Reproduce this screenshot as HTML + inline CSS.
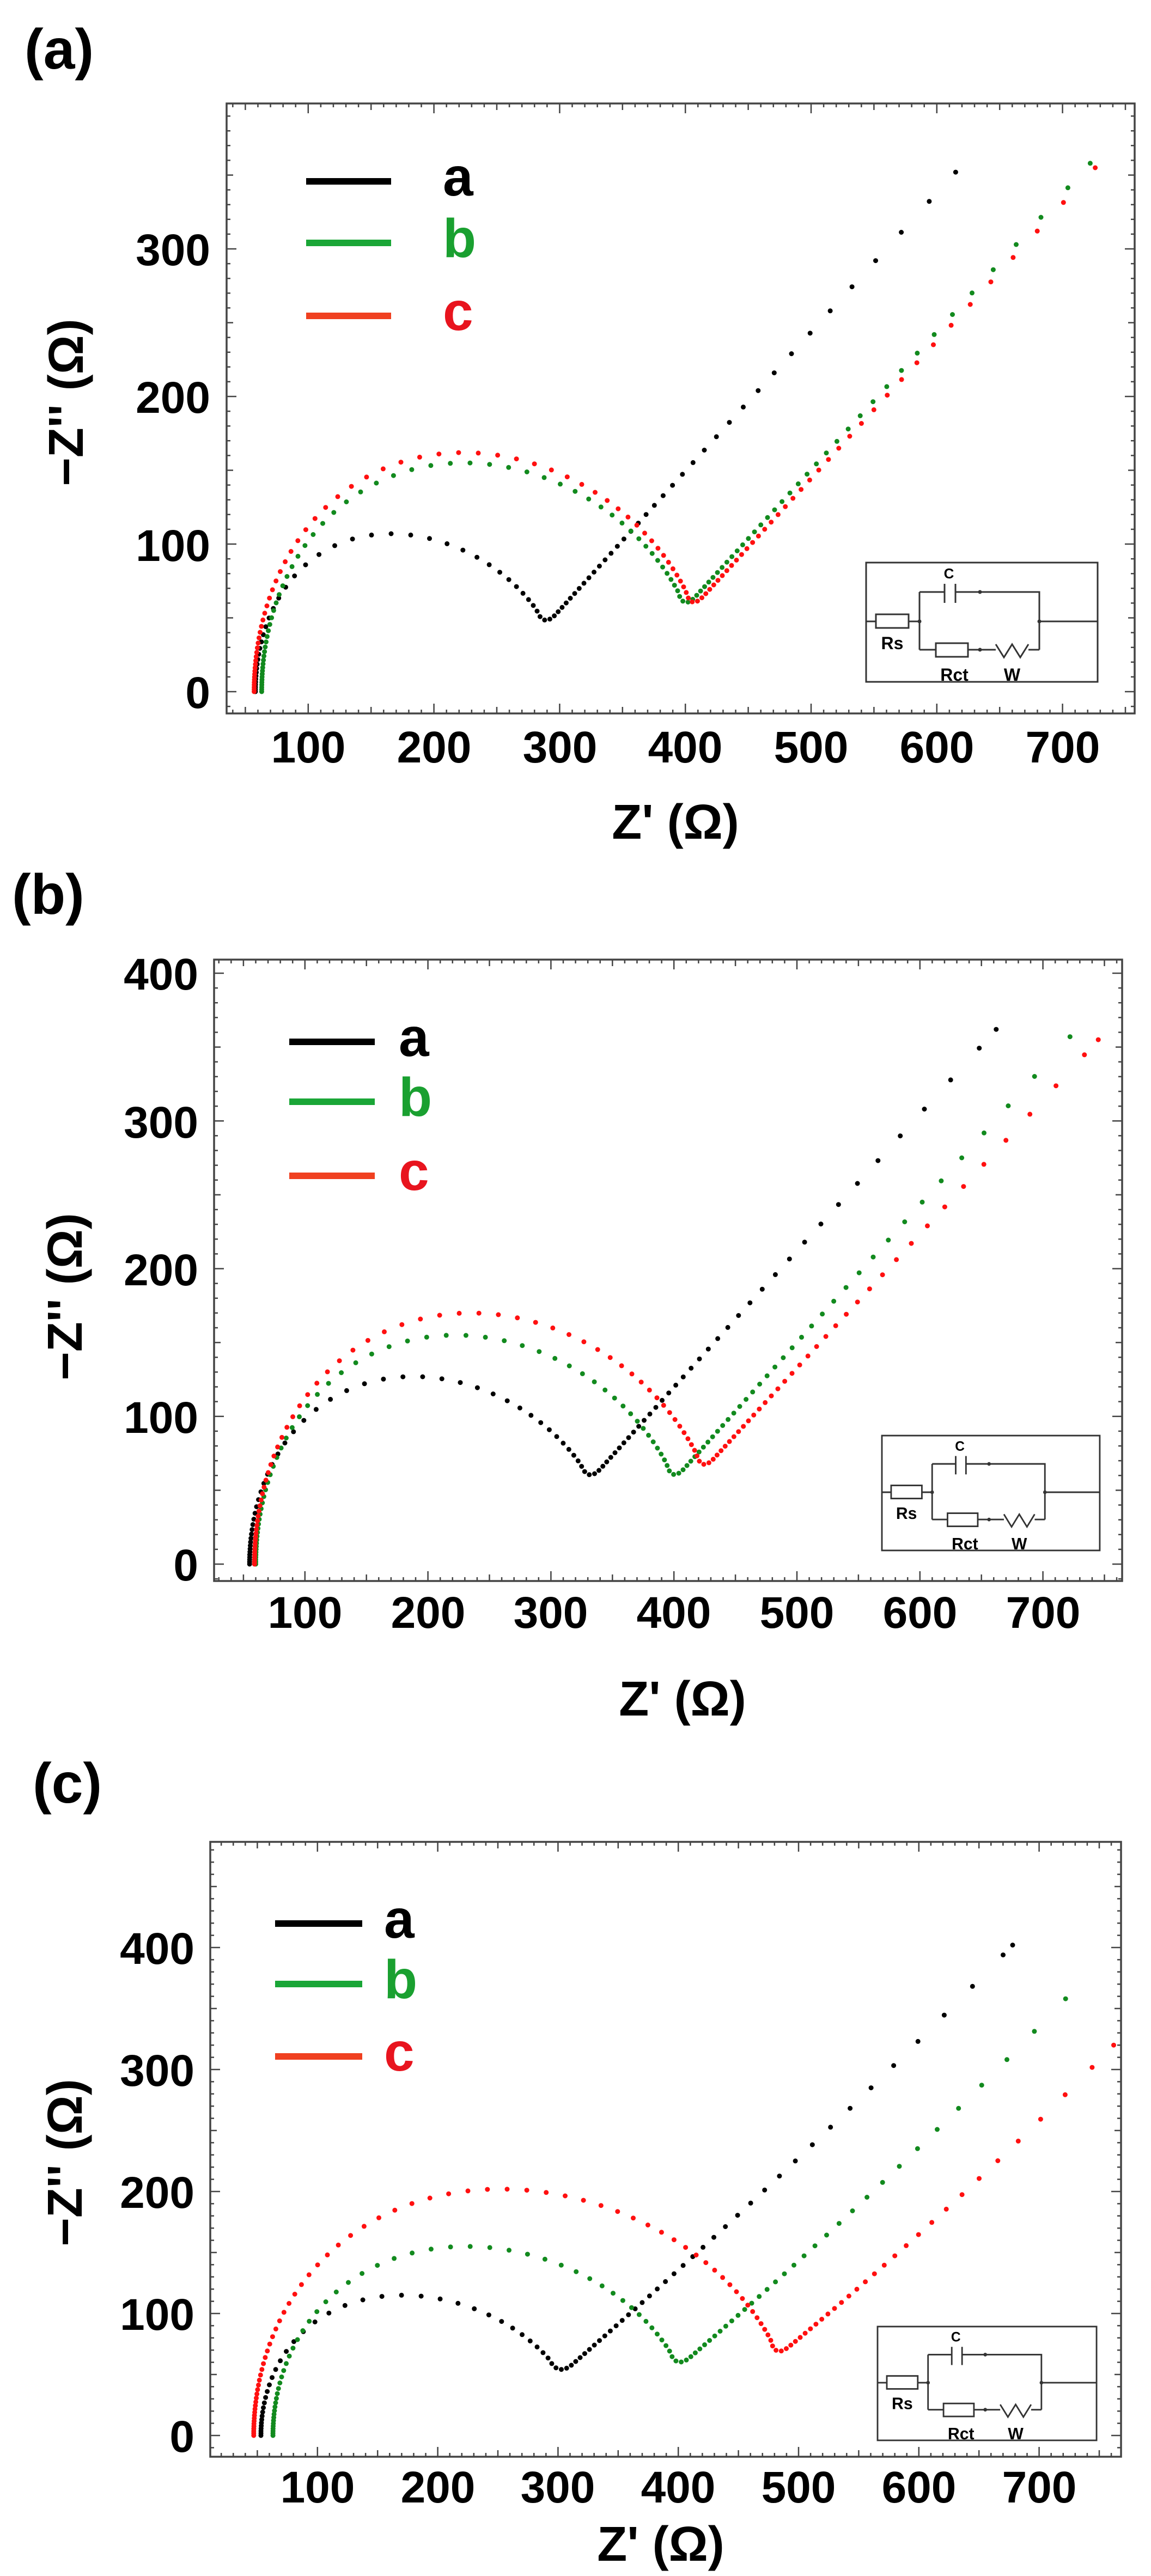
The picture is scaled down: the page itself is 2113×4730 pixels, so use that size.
<!DOCTYPE html>
<html><head><meta charset="utf-8">
<style>
html,body{margin:0;padding:0;background:#fff;}
svg{display:block;}
text{font-family:"Liberation Sans",Arial,sans-serif;font-weight:bold;}
</style></head>
<body>
<svg id="s" xmlns="http://www.w3.org/2000/svg" width="2113" height="4730" viewBox="0 0 2113 4730">
<rect width="2113" height="4730" fill="#fff"/>
<text x="45" y="126" font-size="104">(a)</text>
<text x="22" y="1678" font-size="104">(b)</text>
<text x="60" y="3310" font-size="104">(c)</text>

<g font-size="82">
<text x="386" y="1300" text-anchor="end">0</text>
<text x="386" y="1030" text-anchor="end">100</text>
<text x="386" y="758" text-anchor="end">200</text>
<text x="386" y="487" text-anchor="end">300</text>
<g text-anchor="middle">
<text x="566" y="1400">100</text><text x="797" y="1400">200</text><text x="1028" y="1400">300</text>
<text x="1258" y="1400">400</text><text x="1489" y="1400">500</text><text x="1720" y="1400">600</text><text x="1951" y="1400">700</text>
</g>
</g>
<text x="1240" y="1540" font-size="90" text-anchor="middle">Z' (Ω)</text>
<text transform="translate(152,739) rotate(-90)" font-size="90" text-anchor="middle">−Z'' (Ω)</text>
<rect x="562" y="327" width="156" height="12" fill="#000"/>
<rect x="562" y="440" width="156" height="12" fill="#1aa637"/>
<rect x="562" y="574" width="156" height="12" fill="#f04020"/>
<text x="813" y="359" font-size="100" fill="#000">a</text>
<text x="813" y="472" font-size="100" fill="#1aa030">b</text>
<text x="813" y="606" font-size="100" fill="#e8141e">c</text>

<g font-size="82">
<text x="364" y="2902" text-anchor="end">0</text>
<text x="364" y="2631" text-anchor="end">100</text>
<text x="364" y="2360" text-anchor="end">200</text>
<text x="364" y="2089" text-anchor="end">300</text>
<text x="364" y="1817" text-anchor="end">400</text>
<g text-anchor="middle">
<text x="560" y="2989">100</text><text x="786" y="2989">200</text><text x="1011" y="2989">300</text>
<text x="1237" y="2989">400</text><text x="1463" y="2989">500</text><text x="1689" y="2989">600</text><text x="1915" y="2989">700</text>
</g>
</g>
<text x="1253" y="3150" font-size="90" text-anchor="middle">Z' (Ω)</text>
<text transform="translate(150,2381) rotate(-90)" font-size="90" text-anchor="middle">−Z'' (Ω)</text>
<rect x="531" y="1907" width="157" height="12" fill="#000"/>
<rect x="531" y="2017" width="157" height="12" fill="#1aa637"/>
<rect x="531" y="2153" width="157" height="12" fill="#f04020"/>
<text x="732" y="1939" font-size="100" fill="#000">a</text>
<text x="732" y="2049" font-size="100" fill="#1aa030">b</text>
<text x="732" y="2185" font-size="100" fill="#e8141e">c</text>

<g font-size="82">
<text x="357" y="4502" text-anchor="end">0</text>
<text x="357" y="4278" text-anchor="end">100</text>
<text x="357" y="4054" text-anchor="end">200</text>
<text x="357" y="3830" text-anchor="end">300</text>
<text x="357" y="3606" text-anchor="end">400</text>
<g text-anchor="middle">
<text x="583" y="4595">100</text><text x="804" y="4595">200</text><text x="1024" y="4595">300</text>
<text x="1245" y="4595">400</text><text x="1466" y="4595">500</text><text x="1687" y="4595">600</text><text x="1908" y="4595">700</text>
</g>
</g>
<text x="1213" y="4702" font-size="90" text-anchor="middle">Z' (Ω)</text>
<text transform="translate(150,3971) rotate(-90)" font-size="90" text-anchor="middle">−Z'' (Ω)</text>
<rect x="505" y="3526" width="160" height="12" fill="#000"/>
<rect x="505" y="3637" width="160" height="12" fill="#1aa637"/>
<rect x="505" y="3770" width="160" height="12" fill="#f04020"/>
<text x="705" y="3558" font-size="100" fill="#000">a</text>
<text x="705" y="3669" font-size="100" fill="#1aa030">b</text>
<text x="705" y="3802" font-size="100" fill="#e8141e">c</text>

<g id="insA" transform="translate(1590,1033)">
<text x="152" y="29" font-size="26" text-anchor="middle">C</text>
<text x="48" y="159" font-size="32" text-anchor="middle">Rs</text>
<text x="162" y="217" font-size="32" text-anchor="middle">Rct</text>
<text x="268" y="217" font-size="32" text-anchor="middle">W</text>
</g>
<g id="insB" transform="translate(1619,2636) scale(0.941,0.963)">
<text x="152" y="29" font-size="26" text-anchor="middle">C</text>
<text x="48" y="159" font-size="32" text-anchor="middle">Rs</text>
<text x="162" y="217" font-size="32" text-anchor="middle">Rct</text>
<text x="268" y="217" font-size="32" text-anchor="middle">W</text>
</g>
<g id="insC" transform="translate(1611,4272) scale(0.946,0.954)">
<text x="152" y="29" font-size="26" text-anchor="middle">C</text>
<text x="48" y="159" font-size="32" text-anchor="middle">Rs</text>
<text x="162" y="217" font-size="32" text-anchor="middle">Rct</text>
<text x="268" y="217" font-size="32" text-anchor="middle">W</text>
</g>
</svg>
<script>
(function(){
var NS="http://www.w3.org/2000/svg", svg=document.getElementById('s');
function el(n,a,p){var e=document.createElementNS(NS,n);for(var k in a)e.setAttribute(k,a[k]);(p||svg).appendChild(e);return e;}
function frame(P){
  var g=el('g',{stroke:'#444','stroke-width':2.5,fill:'none'});
  el('rect',{x:P.L,y:P.T,width:P.R-P.L,height:P.B-P.T,'stroke-width':3.5},g);
  var d='';
  for(var v=-100;v<=1000;v+=10){var x=P.x0+P.kx*v;if(x<=P.L+2||x>=P.R-2)continue;
    var l=(v%100==0)?18:(v%50==0?12:7);
    d+='M'+x+' '+P.B+'v'+(-l)+'M'+x+' '+P.T+'v'+l;}
  for(var v=-100;v<=1000;v+=10){var y=P.y0-P.ky*v;if(y<=P.T+2||y>=P.B-2)continue;
    var l=(v%100==0)?18:(v%50==0?12:7);
    d+='M'+P.L+' '+y+'h'+l+'M'+P.R+' '+y+'h'+(-l);}
  el('path',{d:d},g);
}
function dist(a,b){return Math.hypot(a[0]-b[0],a[1]-b[1]);}
function curve(P,c,col){
  c.ym=c.ym-5;
  var X=function(v){return P.x0+P.kx*v;},Y=function(v){return P.y0-P.ky*v;};
  var sk=c.skew||15;
  var phi1=Math.asin(c.ym/c.h);
  var xmAdj=c.xm+sk*c.ym/c.h;
  var D2=(xmAdj-c.rs)/(1+Math.cos(phi1)),cx=c.rs+D2;
  var arc=[];for(var i=0;i<=800;i++){var ph=Math.PI-(Math.PI-phi1)*i/800;var sn=Math.sin(ph);
    arc.push([X(cx+D2*Math.cos(ph)-sk*sn*sn),Y(c.h*sn)]);}
  var M=[X(c.xm),Y(c.ym)];
  var ln=[];var mx=(c.xm+c.xe)/2+(c.bend||0), my=(c.ym+c.ye)/2-(c.bend||0);
  for(var i=0;i<=600;i++){var t=i/600;var x=(1-t)*(1-t)*c.xm+2*t*(1-t)*mx+t*t*c.xe,y=(1-t)*(1-t)*c.ym+2*t*(1-t)*my+t*t*c.ye;ln.push([X(x),Y(y)]);}
  var r=c.round||35;
  while(arc.length>2&&dist(arc[arc.length-1],M)<r)arc.pop();
  while(ln.length>2&&dist(ln[0],M)<r)ln.shift();
  var A0=arc[arc.length-1],B0=ln[0],bz=[];
  for(var i=1;i<40;i++){var t=i/40;bz.push([(1-t)*(1-t)*A0[0]+2*t*(1-t)*M[0]+t*t*B0[0],(1-t)*(1-t)*A0[1]+2*t*(1-t)*M[1]+t*t*B0[1]]);}
  var pts=arc.concat(bz).concat(ln);
  var L=[0];for(var i=1;i<pts.length;i++)L.push(L[i-1]+dist(pts[i],pts[i-1]));
  var T=L[L.length-1];
  var im=0,bd=1e9;for(var i=0;i<pts.length;i++){var d=dist(pts[i],M);if(d<bd){bd=d;im=i;}}
  var Lm=L[im];
  var maxL=c.maxL||80;
  function spf(s){
    if(s<Lm){var t=s/Lm;var base=t<0.5?4:(4+(10-4)*(t-0.5)*2);return base+32*Math.pow(Math.sin(Math.PI*t),1.2);}
    var t=(s-Lm)/(T-Lm);return 10+maxL*Math.pow(t,1.3);
  }
  var out=[pts[0]],s=0,j=1;
  while(true){s+=spf(s);if(s>T-20)break;while(L[j]<s)j++;var f=(s-L[j-1])/(L[j]-L[j-1]);
    out.push([pts[j-1][0]+f*(pts[j][0]-pts[j-1][0]),pts[j-1][1]+f*(pts[j][1]-pts[j-1][1])]);}
  out.push(pts[pts.length-1]);
  var g=el('g',{fill:col});
  out.forEach(function(p){if(p[0]<P.R-3)el('circle',{cx:p[0].toFixed(1),cy:p[1].toFixed(1),r:4.5},g);});
}
var K='#000',G='#128a1e',Rr='#ff1010';
var A={L:416,R:2083,T:190,B:1310,x0:335,kx:2.308,y0:1270,ky:2.71};
var B={L:393,R:2060,T:1762,B:2903,x0:334,kx:2.258,y0:2872,ky:2.7125};
var C={L:386,R:2058,T:3382,B:4511,x0:362,kx:2.208,y0:4472,ky:2.24};
[A,B,C].forEach(frame);
curve(A,{rs:58,h:107,xm:287,ym:48,xe:615,ye:352,maxL:80},K);
curve(A,{rs:63,h:155,xm:398,ym:60,xe:722,ye:358,maxL:75},G);
curve(A,{rs:57,h:162,xm:404,ym:60,xe:726,ye:355,maxL:75},Rr);
curve(B,{rs:55,h:127,xm:330,ym:60,xe:662,ye:362,maxL:80},K);
curve(B,{rs:60,h:155,xm:398,ym:60,xe:722,ye:357,maxL:78},G);
curve(B,{rs:59,h:170,xm:422,ym:67,xe:745,ye:355,maxL:78},Rr);
curve(C,{rs:53,h:115,xm:300,ym:53,xe:678,ye:402,maxL:80,bend:8},K);
curve(C,{rs:63,h:155,xm:398,ym:59,xe:722,ye:358,maxL:78,bend:8},G);
curve(C,{rs:47,h:202,xm:480,ym:68,xe:762,ye:320,maxL:75,bend:8,skew:20},Rr);
function inset(id){
  var g=document.getElementById(id);
  var s=el('g',{stroke:'#333','stroke-width':3,fill:'none'});
  g.insertBefore(s,g.firstChild);
  el('rect',{x:0,y:0,width:425,height:219,fill:'#fff'},s);
  el('path',{d:'M0 108H18M78 108H98M98 54V160M98 54H144M164 54H318V160M98 160H128M187 160H238M298 160H318M318 108H425M144 39V74M164 39V74'},s);
  el('rect',{x:18,y:95,width:60,height:25,fill:'#fff'},s);
  el('rect',{x:128,y:148,width:59,height:25,fill:'#fff'},s);
  el('path',{d:'M238 150L253 174L268 150L283 174L298 150'},s);
  [[209,54],[209,160],[98,108],[318,108]].forEach(function(p){el('circle',{cx:p[0],cy:p[1],r:3.5,fill:'#333',stroke:'none'},s);});
}
inset('insA');inset('insB');inset('insC');
})();
</script>
</body></html>
